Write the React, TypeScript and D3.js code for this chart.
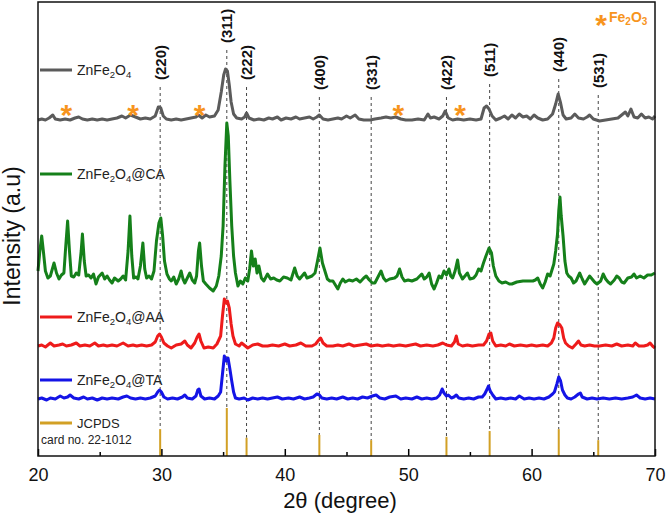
import React, { useEffect, useRef } from "react"
import * as d3 from "d3"

// values
const xTicks = [20, 30, 40, 50, 60, 70]
const xMinorTicks = [25, 35, 45, 55, 65]
const hklLabels = ["(220)", "(311)", "(222)", "(400)", "(331)", "(422)", "(511)", "(440)", "(531)"]
const hklTheta = [29.9, 35.3, 36.9, 42.8, 47.0, 53.1, 56.6, 62.2, 65.4]
const jcpdsIntensity = [56, 100, 38, 44, 33, 40, 52, 56, 33]
const fe2o3Theta = [22.3, 27.7, 33.1, 49.2, 54.2]

const seriesSuffix = ["", "@CA", "@AA", "@TA"]
const seriesOffsets = [336, 175, 110, 57]
const seriesColors = ["#5b5b5b", "#15801a", "#ee1b1b", "#1414e6"]

const znfe2o4: [number, number][] = [[20.0,0],[20.3,1],[20.6,0],[20.9,2],[21.2,5],[21.4,1],[21.8,0],[22.2,1],[22.6,0],[23.0,2],[23.3,3],[23.6,1],[24.0,0],[24.4,1],[24.8,0],[25.2,1],[25.6,0],[26.0,1],[26.4,2],[26.8,4],[27.1,2],[27.5,5],[27.9,3],[28.3,1],[28.7,2],[29.1,1],[29.5,4],[29.75,13],[29.95,12],[30.15,4],[30.4,1],[30.8,0],[31.2,1],[31.6,0],[32.0,1],[32.4,2],[32.8,3],[33.0,5],[33.3,2],[33.6,5],[33.9,3],[34.3,4],[34.6,10],[34.85,28],[35.05,45],[35.2,51],[35.35,49],[35.5,35],[35.65,18],[35.85,6],[36.1,2],[36.5,1],[36.75,3],[36.9,7],[37.1,2],[37.5,0],[37.9,1],[38.3,0],[38.7,2],[39.0,1],[39.4,3],[39.7,0],[40.1,2],[40.5,1],[40.9,3],[41.2,1],[41.6,2],[42.0,3],[42.3,1],[42.6,3],[42.8,5],[43.1,1],[43.5,0],[43.9,1],[44.3,2],[44.6,1],[45.0,4],[45.3,2],[45.7,5],[46.0,1],[46.4,0],[46.9,0],[47.3,1],[47.8,2],[48.2,3],[48.6,2],[49.0,3],[49.4,1],[49.8,0],[50.3,0],[50.8,1],[51.3,0],[51.6,6],[51.8,2],[52.1,3],[52.5,1],[52.8,4],[53.0,9],[53.25,2],[53.6,0],[54.0,1],[54.5,0],[55.0,1],[55.5,0],[55.9,1],[56.15,12],[56.35,14],[56.55,11],[56.8,4],[57.1,0],[57.5,2],[57.8,4],[58.1,1],[58.4,5],[58.7,2],[59.0,6],[59.3,3],[59.6,4],[59.9,1],[60.2,5],[60.5,2],[60.9,0],[61.3,1],[61.7,6],[61.95,16],[62.15,26],[62.35,17],[62.55,5],[62.8,1],[63.2,2],[63.5,6],[63.8,2],[64.2,1],[64.5,3],[64.7,5],[65.0,1],[65.5,-1],[66.0,0],[66.5,1],[67.0,2],[67.3,5],[67.6,8],[67.8,4],[68.05,11],[68.3,3],[68.6,2],[68.9,6],[69.2,2],[69.5,3],[69.8,1],[70.0,4]]

const znfe2o4CA: [number, number][] = [[20.0,10],[20.15,30],[20.3,45],[20.45,28],[20.6,10],[20.8,3],[21.0,5],[21.3,18],[21.5,8],[21.7,2],[21.9,6],[22.1,8],[22.25,35],[22.4,60],[22.55,30],[22.7,5],[22.9,4],[23.1,8],[23.3,6],[23.5,30],[23.6,47],[23.75,20],[23.9,5],[24.1,6],[24.3,3],[24.5,7],[24.7,-3],[24.9,4],[25.2,8],[25.4,2],[25.6,5],[25.8,1],[26.0,-2],[26.2,3],[26.5,0],[26.7,2],[26.9,5],[27.1,1],[27.3,30],[27.45,65],[27.6,25],[27.75,3],[27.95,4],[28.1,2],[28.3,15],[28.5,38],[28.65,12],[28.8,3],[29.0,5],[29.2,2],[29.4,10],[29.6,40],[29.8,58],[29.95,63],[30.1,45],[30.25,20],[30.45,7],[30.65,2],[30.8,0],[31.0,4],[31.2,-3],[31.4,2],[31.6,10],[31.75,2],[31.9,-2],[32.1,3],[32.3,8],[32.5,1],[32.7,-2],[32.85,5],[33.0,30],[33.1,38],[33.25,15],[33.4,0],[33.6,-3],[33.9,-7],[34.2,-10],[34.45,-5],[34.65,5],[34.85,25],[35.0,55],[35.15,115],[35.3,158],[35.42,145],[35.55,100],[35.7,55],[35.85,25],[36.0,8],[36.2,-5],[36.4,0],[36.6,-3],[36.8,3],[37.0,0],[37.15,12],[37.3,30],[37.45,15],[37.6,22],[37.75,8],[37.9,15],[38.1,3],[38.3,0],[38.6,7],[38.85,2],[39.1,3],[39.35,1],[39.6,0],[39.9,4],[40.2,3],[40.5,1],[40.8,13],[41.0,5],[41.2,2],[41.4,5],[41.6,8],[41.8,3],[42.0,4],[42.2,5],[42.45,8],[42.65,20],[42.85,33],[43.05,18],[43.25,10],[43.45,2],[43.65,0],[43.9,0],[44.1,-4],[44.3,-8],[44.5,-2],[44.7,2],[44.9,-1],[45.2,1],[45.5,0],[45.8,2],[46.1,-1],[46.4,3],[46.6,5],[46.85,1],[47.1,-2],[47.3,-2],[47.55,4],[47.8,10],[48.0,3],[48.2,0],[48.5,2],[48.9,3],[49.1,5],[49.3,12],[49.5,4],[49.7,0],[50.0,1],[50.3,0],[50.7,2],[51.1,7],[51.3,2],[51.5,4],[51.7,8],[51.9,-3],[52.1,-8],[52.3,-2],[52.5,5],[52.7,3],[52.9,10],[53.1,6],[53.3,12],[53.45,5],[53.6,3],[53.8,10],[54.0,21],[54.15,8],[54.4,2],[54.6,5],[54.8,8],[55.0,2],[55.3,3],[55.5,6],[55.7,12],[55.9,10],[56.1,18],[56.3,25],[56.55,33],[56.75,28],[56.9,15],[57.1,5],[57.35,0],[57.6,-2],[57.9,-1],[58.2,-3],[58.4,-3],[58.8,-1],[59.3,0],[59.7,0],[60.1,0],[60.3,1],[60.5,3],[60.7,-3],[60.9,-7],[61.1,-1],[61.3,7],[61.5,5],[61.8,17],[61.95,30],[62.1,47],[62.2,70],[62.3,84],[62.4,65],[62.55,45],[62.7,20],[62.85,8],[63.0,5],[63.2,3],[63.4,-2],[63.6,0],[63.9,8],[64.1,2],[64.3,-3],[64.5,1],[64.7,5],[64.9,2],[65.1,-1],[65.3,-3],[65.6,0],[65.8,7],[66.0,2],[66.2,-1],[66.4,-3],[66.7,1],[66.9,5],[67.1,3],[67.3,-1],[67.5,-2],[67.8,3],[68.1,4],[68.3,7],[68.5,3],[68.8,5],[69.1,3],[69.4,6],[69.7,6],[70.0,8]]

const znfe2o4AA: [number, number][] = [[20.0,0],[20.3,1],[20.6,-1],[21.0,3],[21.3,0],[21.7,1],[22.0,2],[22.3,0],[22.7,1],[23.1,3],[23.4,0],[23.8,1],[24.2,0],[24.6,3],[24.9,0],[25.3,1],[25.6,0],[26.0,1],[26.4,0],[26.9,3],[27.3,0],[27.7,1],[28.0,0],[28.4,1],[28.8,0],[29.2,1],[29.5,4],[29.7,10],[29.85,12],[30.0,9],[30.2,3],[30.5,0],[30.8,-2],[31.2,1],[31.6,2],[31.9,5],[32.1,1],[32.4,-2],[32.7,3],[32.9,9],[33.05,12],[33.2,5],[33.45,-2],[33.8,-1],[34.2,-2],[34.5,2],[34.8,10],[34.95,30],[35.1,47],[35.25,43],[35.35,45],[35.5,38],[35.65,22],[35.8,10],[36.0,2],[36.3,0],[36.5,3],[36.8,0],[37.0,-2],[37.4,1],[37.8,2],[38.2,0],[38.6,0],[39.0,1],[39.5,0],[40.0,2],[40.4,0],[40.9,1],[41.3,3],[41.7,0],[42.2,0],[42.5,2],[42.75,6],[42.9,8],[43.1,3],[43.4,0],[43.9,0],[44.3,1],[44.7,0],[45.2,2],[45.6,0],[46.1,1],[46.6,2],[47.0,0],[47.5,1],[47.9,0],[48.4,1],[48.8,0],[49.3,1],[49.8,0],[50.2,1],[50.6,2],[51.0,0],[51.5,1],[52.0,0],[52.4,1],[52.8,3],[53.1,1],[53.5,0],[53.75,4],[53.9,10],[54.05,2],[54.4,0],[54.8,1],[55.2,0],[55.7,1],[56.1,1],[56.35,5],[56.55,12],[56.7,13],[56.85,5],[57.1,0],[57.5,1],[57.9,0],[58.2,2],[58.6,0],[59.1,1],[59.6,0],[60.0,1],[60.4,0],[60.9,1],[61.3,0],[61.6,3],[61.8,8],[61.95,18],[62.1,23],[62.3,21],[62.45,18],[62.6,8],[62.75,3],[63.0,0],[63.3,-2],[63.6,2],[63.8,5],[64.0,1],[64.3,0],[64.7,1],[65.1,0],[65.5,0],[66.0,1],[66.5,0],[66.9,2],[67.3,0],[67.8,1],[68.2,0],[68.4,3],[68.7,0],[69.1,0],[69.4,1],[69.6,3],[69.8,0],[70.0,-2]]

const znfe2o4TA: [number, number][] = [[20.0,0],[20.3,1],[20.7,-1],[21.0,1],[21.4,0],[21.8,3],[22.1,1],[22.4,2],[22.6,4],[22.9,1],[23.3,0],[23.7,2],[24.0,0],[24.4,1],[24.8,-1],[25.2,1],[25.6,0],[26.0,1],[26.5,0],[26.9,2],[27.2,3],[27.5,1],[27.9,0],[28.3,1],[28.7,0],[29.1,1],[29.5,3],[29.7,7],[29.85,9],[30.0,7],[30.2,2],[30.5,0],[30.9,1],[31.3,0],[31.7,2],[31.9,4],[32.1,1],[32.5,0],[32.8,3],[32.95,9],[33.05,10],[33.2,3],[33.5,0],[33.9,1],[34.3,0],[34.6,3],[34.8,7],[34.95,25],[35.1,43],[35.25,38],[35.4,41],[35.55,30],[35.7,18],[35.85,7],[36.0,1],[36.3,0],[36.7,1],[37.0,-1],[37.4,1],[37.8,0],[38.2,1],[38.6,0],[39.0,1],[39.4,2],[39.8,0],[40.3,1],[40.7,0],[41.2,2],[41.6,0],[42.0,1],[42.3,2],[42.6,5],[42.8,4],[43.0,1],[43.4,0],[43.8,1],[44.2,0],[44.7,2],[45.1,0],[45.5,1],[45.9,0],[46.3,2],[46.7,1],[47.1,3],[47.4,4],[47.7,1],[48.1,0],[48.5,2],[49.0,3],[49.4,0],[49.8,1],[50.3,0],[50.7,2],[51.1,0],[51.5,1],[51.9,0],[52.3,1],[52.55,4],[52.75,10],[52.9,6],[53.1,3],[53.25,4],[53.5,1],[53.7,2],[53.9,4],[54.1,1],[54.5,0],[54.9,1],[55.3,0],[55.7,2],[56.0,2],[56.2,5],[56.4,10],[56.5,13],[56.65,8],[56.85,4],[57.1,0],[57.5,1],[57.9,0],[58.3,1],[58.7,0],[59.0,3],[59.4,0],[59.8,1],[60.2,0],[60.6,1],[61.0,0],[61.4,2],[61.7,5],[61.85,7],[62.05,15],[62.2,22],[62.35,18],[62.5,9],[62.7,4],[62.9,1],[63.2,0],[63.5,2],[63.8,5],[63.95,6],[64.1,2],[64.5,0],[64.9,1],[65.3,0],[65.8,1],[66.3,0],[66.8,1],[67.3,0],[67.8,1],[68.2,2],[68.5,4],[68.8,1],[69.2,0],[69.6,1],[70.0,0]]

const seriesData = [znfe2o4, znfe2o4CA, znfe2o4AA, znfe2o4TA]

// layout (pixels)
const W = 666
const H = 515
const left = 38, right = 655, top = 2, bottom = 456
const legendY = [70, 174, 317, 380]
const labelBase = [80, 43, 80, 90, 90, 90, 77, 72, 88]
const font = "'Liberation Sans', Arial, sans-serif"
const gold = "#d2a025"
const orange = "#f7941d"

function subscriptText(sel: any, suffix: string, size: number, sub: number) {
    sel.append("tspan").text("ZnFe")
    sel.append("tspan").attr("font-size", sub).attr("dy", 3).text("2")
    sel.append("tspan").attr("dy", -3).text("O")
    sel.append("tspan").attr("font-size", sub).attr("dy", 3).text("4")
    if (suffix) sel.append("tspan").attr("dy", -3).attr("font-size", size).text(suffix)
}

export default function App() {
    const ref = useRef<SVGSVGElement>(null)

    useEffect(() => {
        const svg = d3.select(ref.current)
        svg.selectAll("*").remove()

        const x = d3.scaleLinear().domain([20, 70]).range([left, right])
        const y = d3.scaleLinear().domain([0, bottom - top]).range([bottom, top])
        const stick = d3.scaleLinear().domain([0, 100]).range([0, 48])

        // dashed guide lines
        svg.append("g")
            .selectAll("line")
            .data(hklTheta)
            .enter()
            .append("line")
            .attr("x1", d => x(d))
            .attr("x2", d => x(d))
            .attr("y1", (d, i) => labelBase[i] + 7)
            .attr("y2", (d, i) => y(stick(jcpdsIntensity[i])))
            .attr("stroke", "#444")
            .attr("stroke-width", 1)
            .attr("stroke-dasharray", "3,3")

        // hkl labels
        svg.append("g")
            .selectAll("text")
            .data(hklLabels)
            .enter()
            .append("text")
            .attr("transform", (d, i) => "translate(" + (x(hklTheta[i]) + 5.5) + "," + labelBase[i] + ") rotate(-90)")
            .attr("font-family", font)
            .attr("font-weight", "bold")
            .attr("font-size", 15)
            .attr("fill", "#111")
            .text(d => d)

        // JCPDS sticks
        svg.append("g")
            .selectAll("line")
            .data(hklTheta)
            .enter()
            .append("line")
            .attr("x1", d => x(d))
            .attr("x2", d => x(d))
            .attr("y1", y(0))
            .attr("y2", (d, i) => y(stick(jcpdsIntensity[i])))
            .attr("stroke", gold)
            .attr("stroke-width", 2)

        // patterns
        seriesData.forEach((data, k) => {
            const line = d3.line<[number, number]>()
                .x(d => x(d[0]))
                .y(d => y(d[1] + seriesOffsets[k]))
            svg.append("path")
                .datum(data)
                .attr("d", line)
                .attr("fill", "none")
                .attr("stroke", seriesColors[k])
                .attr("stroke-width", 3)
                .attr("stroke-linejoin", "round")
        })

        // Fe2O3 markers
        svg.append("g")
            .selectAll("text")
            .data(fe2o3Theta)
            .enter()
            .append("text")
            .attr("x", d => x(d))
            .attr("y", y(seriesOffsets[0] + 11) + 16)
            .attr("text-anchor", "middle")
            .attr("font-family", font)
            .attr("font-weight", "bold")
            .attr("font-size", 30)
            .attr("fill", orange)
            .text("*")

        // legends
        seriesColors.forEach((c, k) => {
            svg.append("line")
                .attr("x1", 40).attr("x2", 72)
                .attr("y1", legendY[k]).attr("y2", legendY[k])
                .attr("stroke", c).attr("stroke-width", 3)
            const t = svg.append("text")
                .attr("x", 77).attr("y", legendY[k] + 5)
                .attr("font-family", font).attr("font-size", 14).attr("fill", "#222")
            subscriptText(t, seriesSuffix[k], 14, 9.5)
        })
        svg.append("line")
            .attr("x1", 40).attr("x2", 72)
            .attr("y1", 423).attr("y2", 423)
            .attr("stroke", gold).attr("stroke-width", 3)
        svg.append("text")
            .attr("x", 77).attr("y", 428)
            .attr("font-family", font).attr("font-size", 13).attr("fill", "#222")
            .text("JCPDS")
        svg.append("text")
            .attr("x", 41).attr("y", 444)
            .attr("font-family", font).attr("font-size", 12).attr("fill", "#222")
            .text("card no. 22-1012")

        // Fe2O3 key
        svg.append("text")
            .attr("x", 601).attr("y", 35)
            .attr("text-anchor", "middle")
            .attr("font-family", font).attr("font-weight", "bold")
            .attr("font-size", 30).attr("fill", orange)
            .text("*")
        const fe = svg.append("text")
            .attr("x", 609).attr("y", 22)
            .attr("font-family", font).attr("font-weight", "bold")
            .attr("font-size", 14).attr("fill", orange)
        fe.append("tspan").text("Fe")
        fe.append("tspan").attr("font-size", 10).attr("dy", 3).text("2")
        fe.append("tspan").attr("dy", -3).text("O")
        fe.append("tspan").attr("font-size", 10).attr("dy", 3).text("3")

        // x axis, ticks inward
        const xAxis = d3.axisBottom(x).tickValues(xTicks).tickSize(-7).tickPadding(12).tickFormat(d3.format("d"))
        const gx = svg.append("g").attr("transform", "translate(0," + bottom + ")").call(xAxis)
        gx.select(".domain").remove()
        gx.selectAll("text").attr("font-family", font).attr("font-size", 18).attr("fill", "#111")
        gx.selectAll("line").attr("stroke-width", 1.5)
        const gm = svg.append("g").attr("transform", "translate(0," + bottom + ")")
            .call(d3.axisBottom(x).tickValues(xMinorTicks).tickSize(-4).tickFormat(() => ""))
        gm.select(".domain").remove()
        gm.selectAll("line").attr("stroke-width", 1.5)

        // frame
        svg.append("rect")
            .attr("x", left).attr("y", top)
            .attr("width", right - left).attr("height", bottom - top)
            .attr("fill", "none").attr("stroke", "#111").attr("stroke-width", 1.5)

        // axis titles
        svg.append("text")
            .attr("x", 340).attr("y", 508)
            .attr("text-anchor", "middle")
            .attr("font-family", font).attr("font-size", 22).attr("fill", "#111")
            .text("2θ (degree)")
        svg.append("text")
            .attr("transform", "translate(20,236) rotate(-90)")
            .attr("text-anchor", "middle")
            .attr("font-family", font).attr("font-size", 23).attr("fill", "#111")
            .text("Intensity (a.u)")
    }, [])

    return (
        <svg ref={ref} width={W} height={H}
            style={{ position: "absolute", left: 0, top: 0, background: "#fff" }} />
    )
}
